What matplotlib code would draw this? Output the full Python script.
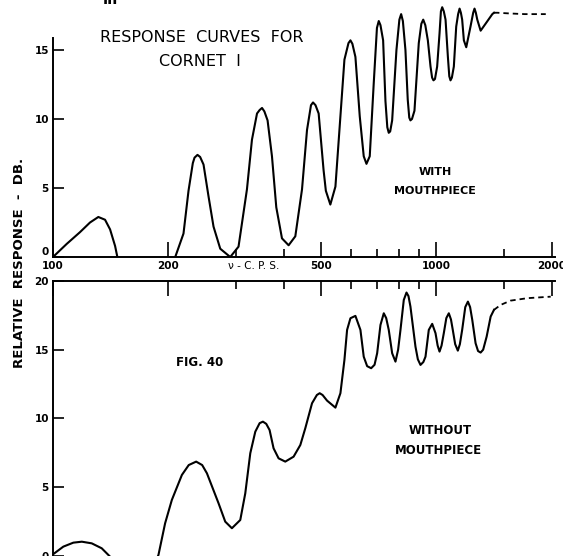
import numpy as np
import matplotlib
matplotlib.use("Agg")
import matplotlib.pyplot as plt
from matplotlib.ticker import FixedLocator, FixedFormatter, NullFormatter

W, H = 563, 556

# --- with mouthpiece (top) ---
with_f1 = [100, 108.6, 117.6, 124.9, 131.3, 136.7, 140.9, 145.2, 147.2]
with_db1 = [0, 0.95, 1.8, 2.5, 2.9, 2.7, 2.0, 0.8, 0]

with_f2 = [208.4, 219.0, 225.7, 231.6, 234, 238.2, 242, 247.0, 254.5, 262.3, 273.1,
           290.0, 304.8, 320.6, 330.4, 340.6, 346, 351.0, 356, 362.9, 372.6, 382.4,
           395.7, 411.8, 428.7, 446.3, 459.9, 471, 476.8, 484, 493.2, 508, 515, 529.1,
           545.5, 562.1, 575.8, 590, 597.0, 604, 615.1, 631.3, 646.6, 657.3, 670.4,
           686.7, 700, 707.7, 715, 726.5, 736.7, 745, 751.5, 758, 767.0, 787.0, 801,
           809.6, 818, 830.7, 842.3, 850, 856.0, 864, 877.0, 900.0, 914, 924.4, 936,
           950.4, 965.8, 975, 983.0, 992, 1005, 1019.5, 1028, 1036, 1046, 1057, 1072,
           1081, 1089, 1098, 1111, 1127, 1140, 1150, 1159, 1168, 1180, 1197, 1228,
           1248, 1258, 1268, 1279, 1305, 1344, 1400, 1414]
with_db2 = [0, 1.7, 4.8, 6.8, 7.2, 7.4, 7.25, 6.7, 4.4, 2.2, 0.6,
            0.0, 0.75, 4.9, 8.5, 10.4, 10.65, 10.8, 10.55, 9.9, 7.3, 3.6,
            1.35, 0.85, 1.5, 4.9, 9.2, 11.0, 11.2, 11.0, 10.4, 6.3, 4.8, 3.8,
            5.1, 10.2, 14.3, 15.5, 15.7, 15.45, 14.5, 10.2, 7.3, 6.75, 7.3,
            12.6, 16.6, 17.1, 16.8, 15.7, 11.3, 9.4, 9.0, 9.1, 9.9, 15.0, 17.2,
            17.6, 17.1, 15.0, 11.4, 10.1, 9.9, 10.0, 10.6, 15.5, 16.9, 17.2, 16.8,
            15.7, 13.8, 13.0, 12.8, 12.9, 13.8, 16.2, 17.8, 18.1, 17.8, 17.2, 14.5,
            13.1, 12.8, 13.0, 13.8, 16.7, 17.6, 18.0, 17.7, 17.2, 15.7, 15.2, 16.7,
            17.7, 18.0, 17.7, 17.2, 16.4, 16.9, 17.6, 17.7]

with_dash_f = [1414, 1442, 1550, 1700, 1850, 1930]
with_dash_db = [17.7, 17.7, 17.65, 17.6, 17.6, 17.6]

# --- without mouthpiece (bottom) ---
wo_f1 = [100, 106.4, 113.0, 118.9, 126.2, 134.0, 140.9, 143.5]
wo_db1 = [0.1, 0.66, 0.95, 1.02, 0.9, 0.54, -0.07, -0.4]

wo_f2 = [186, 188.4, 196.1, 204.2, 216.9, 226, 236.3, 245, 252.1, 270.3, 281.4,
         292.9, 308.0, 317.4, 327.1, 337.1, 346, 352.9, 360, 367.3, 376.2, 387.7,
         403.6, 424.3, 441.8, 455.2, 474.0, 488, 496.3, 505, 518.8, 545.5, 562.1,
         575.8, 585.1, 597.0, 615.1, 633.9, 646.6, 660, 676.1, 690, 700.9, 715,
         729.4, 740, 751.5, 767.0, 782.4, 795, 806.3, 822.5, 836.0, 846, 856.0,
         882.3, 895, 909.3, 925, 937.1, 955.8, 975.6, 995.2, 1008, 1019.5, 1032,
         1046, 1062, 1078, 1092, 1104, 1120, 1138, 1152, 1168, 1190, 1209, 1225,
         1241, 1266, 1285, 1305, 1325, 1353, 1386, 1414]
wo_db2 = [-0.3, 0.05, 2.36, 4.06, 5.88, 6.6, 6.85, 6.6, 6.0, 3.82, 2.48,
          2.0, 2.6, 4.54, 7.46, 9.03, 9.65, 9.76, 9.6, 9.15, 7.82, 7.09,
          6.85, 7.21, 8.06, 9.28, 11.1, 11.7, 11.83, 11.7, 11.29, 10.78, 11.83,
          14.25, 16.44, 17.29, 17.46, 16.44, 14.49, 13.8, 13.65, 13.9, 14.74, 16.8,
          17.65, 17.3, 16.44, 14.74, 14.13, 15.0, 16.44, 18.62, 19.16, 18.9, 18.14,
          15.22, 14.3, 13.89, 14.1, 14.49, 16.44, 16.88, 16.2, 15.3, 14.86, 15.3,
          16.2, 17.3, 17.65, 17.2, 16.44, 15.4, 14.93, 15.4, 16.44, 18.1, 18.5, 18.1,
          17.17, 15.47, 14.9, 14.79, 15.0, 15.95, 17.41, 17.9]

wo_dash_f = [1414, 1472, 1562, 1728, 1988]
wo_dash_db = [17.9, 18.26, 18.57, 18.75, 18.86]

major_x = [100, 200, 500, 1000, 2000]
minor_x = [300, 400, 600, 700, 800, 900, 1500]


def px(x, y):
    return x / W, 1 - y / H


fig = plt.figure(figsize=(W / 100, H / 100), dpi=100)
left, right = 53 / W, 555 / W

ax1 = fig.add_axes([left, 1 - 257 / H, right - left, 18.6 * 13.8 / H])
ax2 = fig.add_axes([left, 1 - 555.7 / H, right - left, 274.7 / H])

lw = 1.5
for ax in (ax1, ax2):
    ax.set_xscale("log")
    ax.set_xlim(100, 2040)
    ax.spines["right"].set_visible(False)
    for s in ax.spines.values():
        s.set_linewidth(1.4)
    ax.xaxis.set_major_locator(FixedLocator(major_x))
    ax.xaxis.set_minor_locator(FixedLocator(minor_x))
    ax.xaxis.set_minor_formatter(NullFormatter())
    ax.tick_params(axis="y", direction="in", length=8, width=1.2, pad=3,
                   labelsize=7.5)

# top panel
ax1.plot(with_f1, with_db1, color="black", lw=lw)
ax1.plot(with_f2, with_db2, color="black", lw=lw, solid_joinstyle="round")
ax1.plot(with_dash_f, with_dash_db, color="black", lw=1.3, dashes=(3, 2.2))
ax1.set_ylim(0, 18.6)
ax1.spines["top"].set_visible(False)
ax1.spines["left"].set_bounds(0, 15.9)
ax1.set_yticks([0, 5, 10, 15])
ylabs = ax1.set_yticklabels(["0", "5", "10", "15"], fontweight="bold")
ylabs[0].set_va("bottom")  # the "0" sits just above the frequency axis
ax1.xaxis.set_major_formatter(FixedFormatter([str(v) for v in major_x]))
ax1.tick_params(axis="x", which="major", direction="in", length=11, width=1.2,
                pad=3, labelsize=7.5)
ax1.tick_params(axis="x", which="minor", direction="in", length=6, width=1.2)
for lab in ax1.get_xticklabels():
    lab.set_fontweight("bold")
ax1.text(333, -0.65, "\u03bd - C. P. S.", ha="center", va="center",
         fontsize=7.5, clip_on=False)

# bottom panel
ax2.plot(wo_f1, wo_db1, color="black", lw=lw)
ax2.plot(wo_f2, wo_db2, color="black", lw=lw, solid_joinstyle="round")
ax2.plot(wo_dash_f, wo_dash_db, color="black", lw=1.3, dashes=(3, 2.2))
ax2.set_ylim(0, 20)
ax2.spines["bottom"].set_visible(False)
ax2.set_yticks([0, 5, 10, 15, 20])
ax2.set_yticklabels(["0", "5", "10", "15", "20"], fontweight="bold")
ax2.tick_params(axis="x", which="both", direction="in", bottom=False, top=True,
                labelbottom=False, labeltop=False, width=1.2)
ax2.tick_params(axis="x", which="major", length=11)
ax2.tick_params(axis="x", which="minor", length=6)

# texts
fig.text(*px(20, 263), "RELATIVE  RESPONSE  -  DB.", rotation=90, ha="center",
         va="center", fontsize=9.5, fontweight="bold")
fig.text(*px(202, 38), "RESPONSE  CURVES  FOR", ha="center", va="center",
         fontsize=11.5)
fig.text(*px(200, 62), "CORNET  I", ha="center", va="center", fontsize=11.5)
fig.text(*px(110, 0), "III", ha="center", va="center", fontsize=10,
         fontweight="bold")
fig.text(*px(435, 172), "WITH", ha="center", va="center", fontsize=8,
         fontweight="bold")
fig.text(*px(435, 191), "MOUTHPIECE", ha="center", va="center", fontsize=8,
         fontweight="bold")
fig.text(*px(200, 362), "FIG. 40", ha="center", va="center", fontsize=8.5,
         fontweight="bold")
fig.text(*px(440, 430), "WITHOUT", ha="center", va="center", fontsize=8.5,
         fontweight="bold")
fig.text(*px(438, 450), "MOUTHPIECE", ha="center", va="center", fontsize=8.5,
         fontweight="bold")

fig.savefig("out.png", dpi=100)
